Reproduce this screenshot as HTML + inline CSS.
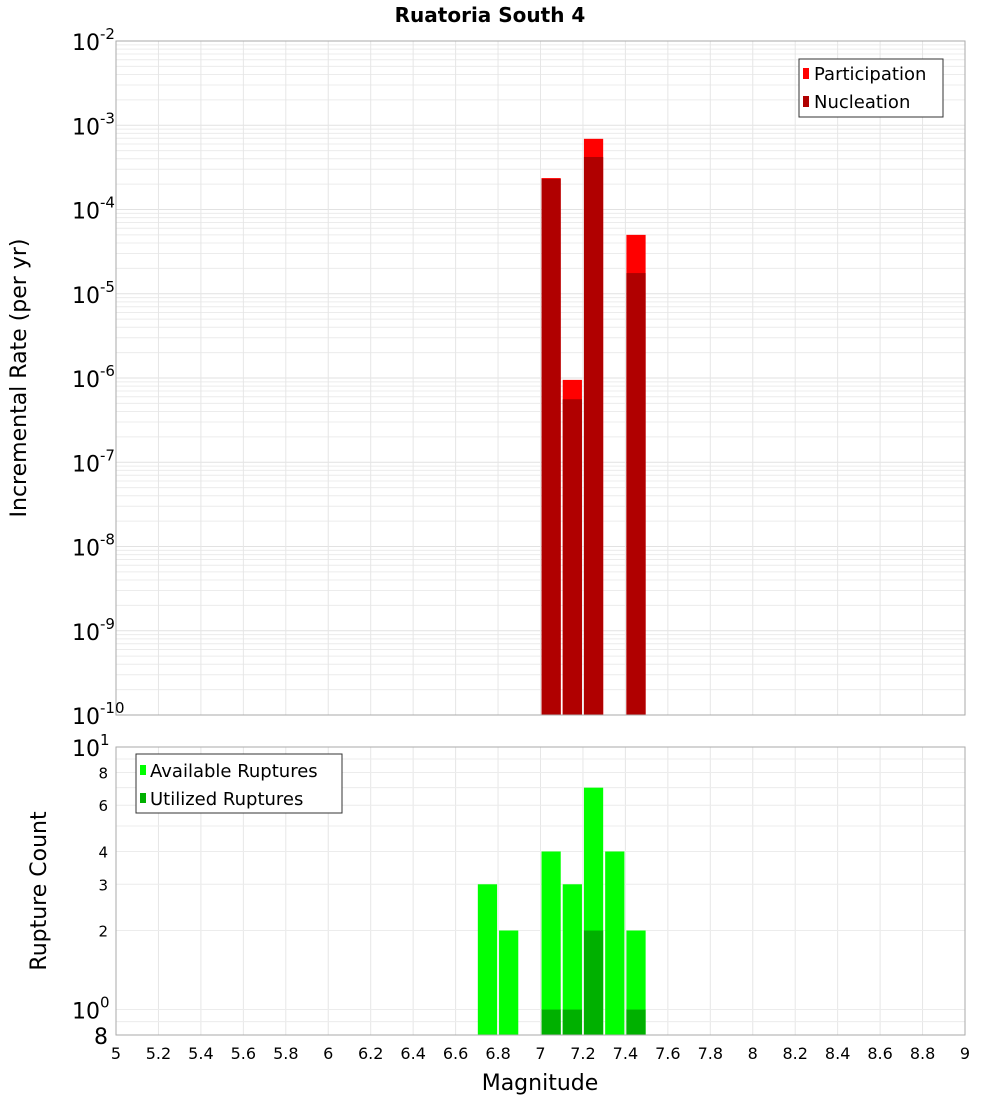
<!DOCTYPE html>
<html><head><meta charset="utf-8"><style>
body{margin:0;background:#fff;font-family:"Liberation Sans","DejaVu Sans",sans-serif}
svg text{font-family:"DejaVu Sans","Liberation Sans",sans-serif}
</style></head><body>
<svg id="chart" width="1000" height="1100" xmlns="http://www.w3.org/2000/svg">
<text x="490" y="22" text-anchor="middle" font-size="20" font-weight="bold">Ruatoria South 4</text>
<g id="topPlot"></g>
<g id="botPlot"></g>
</svg>
<script>
const mags = [7.05, 7.15, 7.25, 7.45];
const participation = [2.36e-4, 9.5e-7, 6.9e-4, 5.0e-5];
const nucleation = [2.3e-4, 5.6e-7, 4.2e-4, 1.76e-5];
const countMags = [6.75, 6.85, 7.05, 7.15, 7.25, 7.35, 7.45];
const available = [3, 2, 4, 3, 7, 4, 2];
const utilized = [0, 0, 1, 1, 2, 0, 1];
const xTicks = [5,5.2,5.4,5.6,5.8,6,6.2,6.4,6.6,6.8,7,7.2,7.4,7.6,7.8,8,8.2,8.4,8.6,8.8,9];
const topDecades = [-10,-9,-8,-7,-6,-5,-4,-3,-2];
const botTicks = [2,3,4,6,8];

const NS="http://www.w3.org/2000/svg";
const X0=116,X1=965;
const x=v=>X0+(v-5)/4*(X1-X0);
const TT=41,TB=715;
const yTop=v=>TT+(-2-Math.log10(v))*(TB-TT)/8;
const BT=747,BB=1035,bmin=Math.log10(0.8);
const yBot=v=>BT+(1-Math.log10(v))*(BB-BT)/(1-bmin);
function mk(p,tag,a,txt){const e=document.createElementNS(NS,tag);for(const k in a)e.setAttribute(k,a[k]);if(txt!==undefined)e.textContent=txt;p.appendChild(e);return e;}
const topG=document.getElementById('topPlot'),botG=document.getElementById('botPlot');

for(let d=-10;d<-2;d++)for(let k=1;k<10;k++){const y=yTop(k*Math.pow(10,d));
 const l=mk(topG,'line',{x1:X0,x2:X1,y1:y,y2:y,stroke:k==1?'#e2e2e2':'#ececec','stroke-width':1});
 
 }
xTicks.forEach(t=>{const l=mk(topG,'line',{x1:x(t),x2:x(t),y1:TT,y2:TB,stroke:'#e6e6e6'});
 
 
 const l2=mk(botG,'line',{x1:x(t),x2:x(t),y1:BT,y2:BB,stroke:'#e6e6e6'});
 
 });
mags.forEach((m,i)=>{
 const xa=x(m-0.05)+1,w=x(m+0.05)-x(m-0.05)-2;
 const p=mk(topG,'rect',{x:xa,y:yTop(participation[i]),width:w,height:TB-yTop(participation[i]),fill:'#ff0000'});
 
 
 const n=mk(topG,'rect',{x:xa,y:yTop(nucleation[i]),width:w,height:TB-yTop(nucleation[i]),fill:'#b00000'});
 
 });
mk(topG,'rect',{x:X0,y:TT,width:X1-X0,height:TB-TT,fill:'none',stroke:'#aaa'});
topDecades.forEach(d=>{const y=yTop(Math.pow(10,d));
 const t=mk(topG,'text',{x:72,y:y+9,'font-size':22});
 
 
 t.textContent='10';mk(t,'tspan',{dy:-11,'font-size':15},String(d));});
const yl=mk(topG,'text',{transform:'translate(26,378) rotate(-90)','text-anchor':'middle','font-size':22},'Incremental Rate (per yr)');


const lg=mk(topG,'g',{});


mk(lg,'rect',{x:799,y:59,width:144,height:58,fill:'#fff',stroke:'#333'});
mk(lg,'rect',{x:803,y:68,width:6,height:11,fill:'#ff0000'});
mk(lg,'text',{x:814,y:80,'font-size':18},'Participation');
mk(lg,'rect',{x:803,y:96,width:6,height:11,fill:'#b00000'});
mk(lg,'text',{x:814,y:108,'font-size':18},'Nucleation');

for(let v=0.8;v<=10.01;v+=(v<0.99?0.1:1)){const y=yBot(v);
 const l=mk(botG,'line',{x1:X0,x2:X1,y1:y,y2:y,stroke:'#ececec'});
 
 }
countMags.forEach((m,i)=>{
 const xa=x(m-0.05)+1,w=x(m+0.05)-x(m-0.05)-2;
 const a=mk(botG,'rect',{x:xa,y:yBot(available[i]),width:w,height:BB-yBot(available[i]),fill:'#00ff00'});
 
 
 if(utilized[i]>0){const u=mk(botG,'rect',{x:xa,y:yBot(utilized[i]),width:w,height:BB-yBot(utilized[i]),fill:'#00b000'});
 
 }});
mk(botG,'rect',{x:X0,y:BT,width:X1-X0,height:BB-BT,fill:'none',stroke:'#aaa'});
botTicks.forEach(v=>{const t=mk(botG,'text',{x:108,y:yBot(v)+6,'text-anchor':'end','font-size':15},String(v));
 
 });
[[1,yBot(10)],[0,yBot(1)]].forEach(([e,y])=>{const t=mk(botG,'text',{x:72,y:y+9,'font-size':22},'10');
 mk(t,'tspan',{dy:-11,'font-size':15},String(e));
 
 });
const e8=mk(botG,'text',{x:108,y:BB+9,'text-anchor':'end','font-size':22},'8');


const yl2=mk(botG,'text',{transform:'translate(46,891) rotate(-90)','text-anchor':'middle','font-size':22},'Rupture Count');


xTicks.forEach(t=>{const s=mk(botG,'text',{x:x(t),y:1059,'text-anchor':'middle','font-size':16},String(t));
 
 });
const xl=mk(botG,'text',{x:540,y:1090,'text-anchor':'middle','font-size':22},'Magnitude');


const lg2=mk(botG,'g',{});


mk(lg2,'rect',{x:136,y:754,width:206,height:59,fill:'#fff',stroke:'#333'});
mk(lg2,'rect',{x:140,y:765,width:6,height:10,fill:'#00ff00'});
mk(lg2,'text',{x:150,y:777,'font-size':18},'Available Ruptures');
mk(lg2,'rect',{x:140,y:793,width:6,height:10,fill:'#00b000'});
mk(lg2,'text',{x:150,y:805,'font-size':18},'Utilized Ruptures');
</script>
</body></html>
